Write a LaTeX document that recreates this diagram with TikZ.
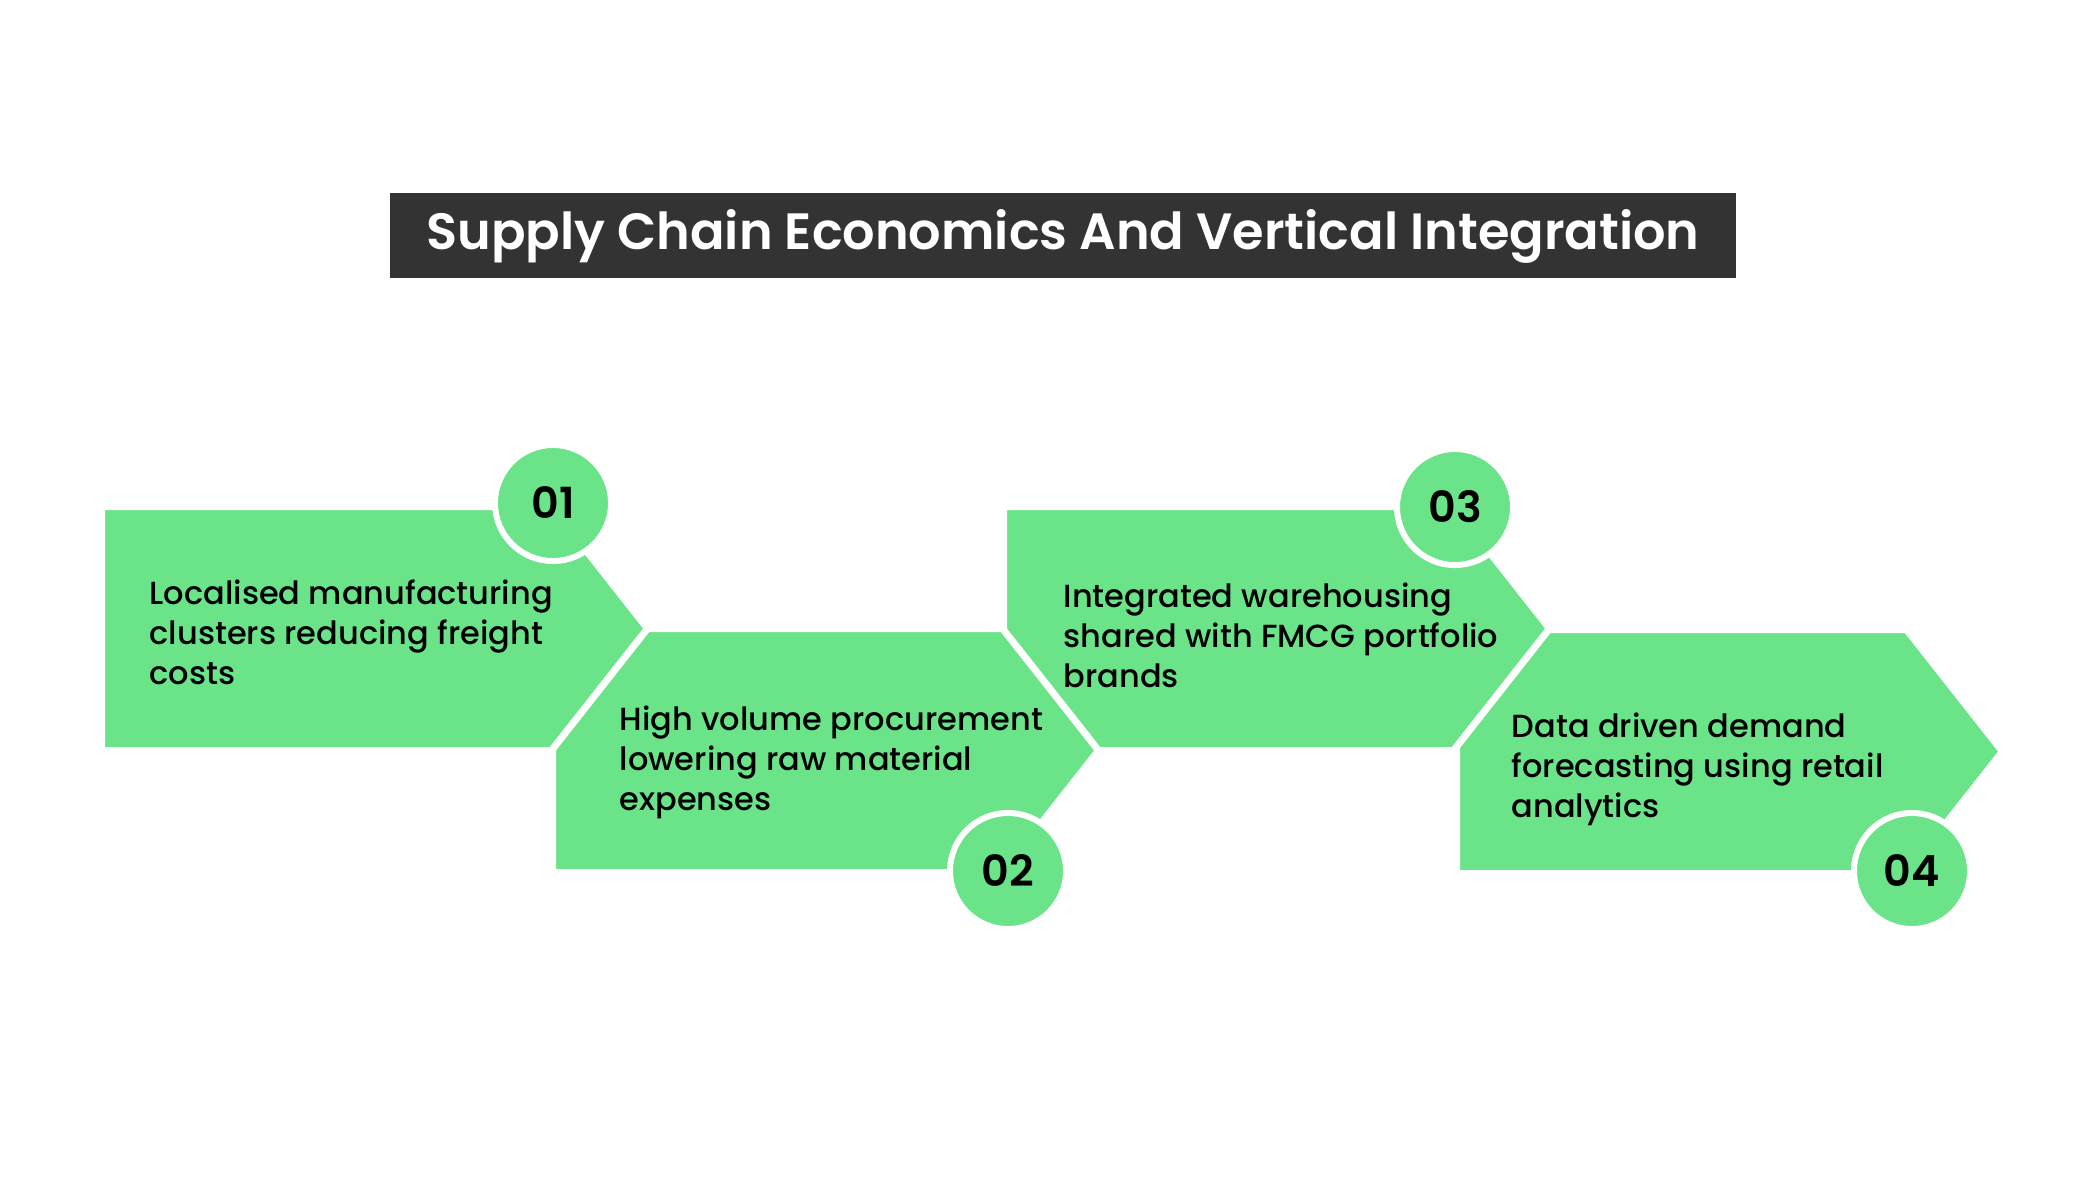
\documentclass[tikz,border=0pt]{standalone}
\usepackage{fontspec}
\setmainfont{Poppins}[UprightFont={* Medium},BoldFont={* SemiBold}]
\usepackage{tikz}
\usetikzlibrary{positioning, calc}
\definecolor{stepgreen}{RGB}{107,228,137}
\definecolor{titledark}{RGB}{51,51,51}
\tikzset{
  chevron/.style={fill=stepgreen,draw=white,line width=0.07cm,line join=miter},
  badge/.style={circle,fill=stepgreen,draw=white,line width=0.06cm,minimum size=1.16cm,
    inner sep=0pt,font=\bfseries\fontsize{12.2}{14}\selectfont},
  steptext/.style={anchor=west,align=left,inner sep=0pt,font=\fontsize{9.1}{11.38}\selectfont,
    execute at begin node=\strut,execute at end node=\strut},
  titlebox/.style={rectangle,fill=titledark,text=white,minimum width=13.45cm,minimum height=0.855cm,
    inner sep=0pt,font=\bfseries\fontsize{14.5}{18}\selectfont,text height=0.82em,text depth=0pt}
}
\begin{document}
\begin{tikzpicture}[x=0.01cm,y=-0.01cm]
  \useasboundingbox[fill=white] (0,0) rectangle (2100,1200);
  \node[titlebox] (title) at (1063,235.5) {Supply Chain Economics And Vertical Integration};

  \foreach \L/\T in {1456.5/629.5, 1003.5/506.5, 552.5/628.5, 101.5/506.5}
    \filldraw[chevron] (\L,\T) -- ++(450,0) -- ++(96,122) -- ++(-96,122) -- ++(-450,0) -- cycle;

  \node[badge] (b1) at (553,503)  {01};
  \node[badge] (b2) at (1008,871) {02};
  \node[badge] (b3) at (1455,507) {03};
  \node[badge] (b4) at (1912,871) {04};

  \node[steptext] (t1) at (149,638)  {Localised manufacturing\\clusters reducing freight\\costs};
  \node[steptext] (t2) at (619,764)  {High volume procurement\\lowering raw material\\expenses};
  \node[steptext] (t3) at (1063,641) {Integrated warehousing\\shared with FMCG portfolio\\brands};
  \node[steptext] (t4) at (1511,771) {Data driven demand\\forecasting using retail\\analytics};
\end{tikzpicture}
\end{document}
